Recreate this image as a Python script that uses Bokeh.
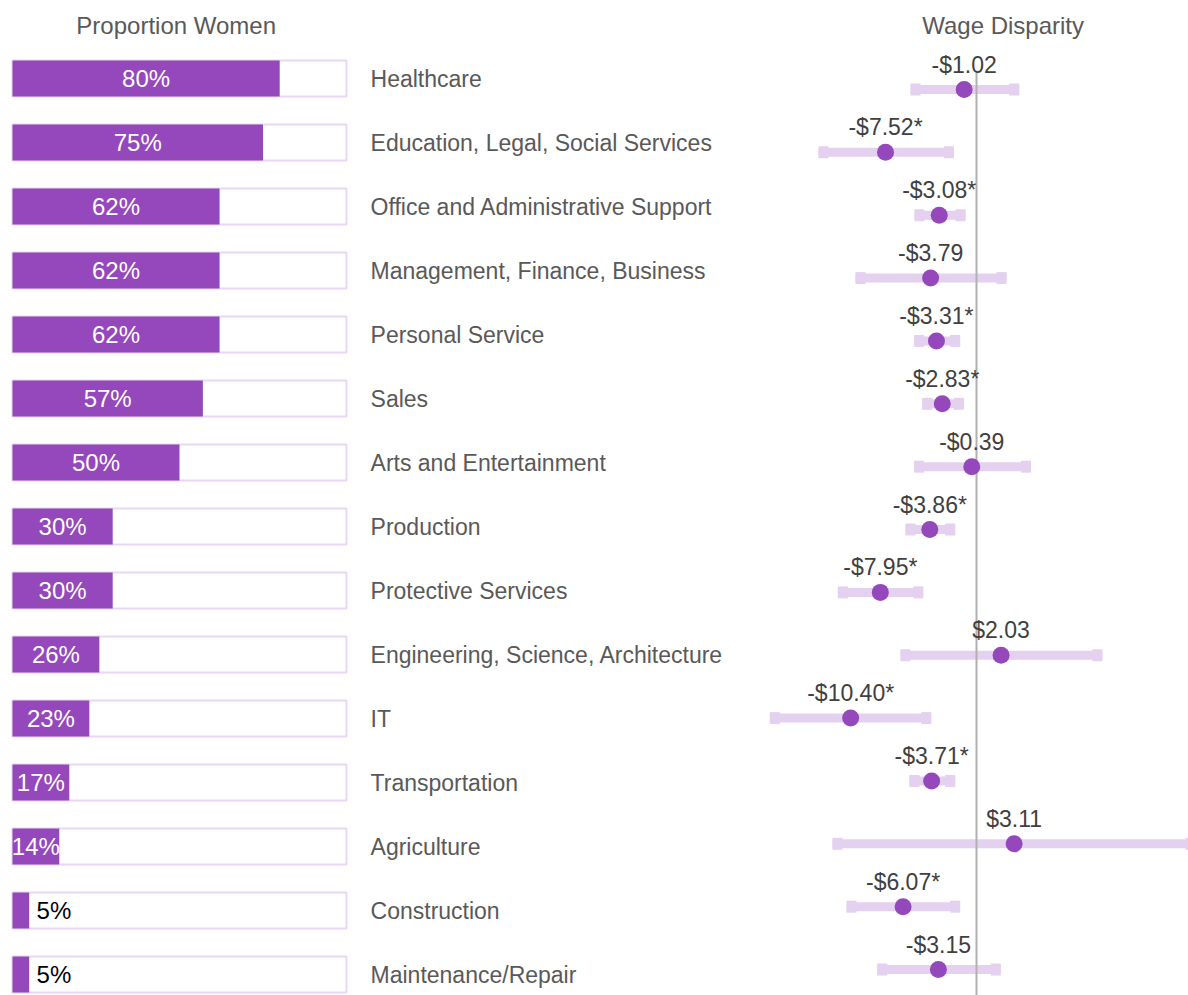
from bokeh.plotting import figure
from bokeh.models import Range1d, ColumnDataSource
from bokeh.core.properties import value
from bokeh.embed import file_html
from bokeh.resources import INLINE

# ---------------- data ----------------
categories = [
    "Healthcare", "Education, Legal, Social Services", "Office and Administrative Support",
    "Management, Finance, Business", "Personal Service", "Sales", "Arts and Entertainment",
    "Production", "Protective Services", "Engineering, Science, Architecture", "IT",
    "Transportation", "Agriculture", "Construction", "Maintenance/Repair",
]
pct_women = [80, 75, 62, 62, 62, 57, 50, 30, 30, 26, 23, 17, 14, 5, 5]
wage_gap = [-1.02, -7.52, -3.08, -3.79, -3.31, -2.83, -0.39, -3.86, -7.95, 2.03,
            -10.40, -3.71, 3.11, -6.07, -3.15]
significant = [False, True, True, False, True, True, False, True, True, False,
               True, True, False, True, False]
ci_low = [-5.45, -13.06, -5.12, -10.0, -5.15, -4.49, -5.15, -5.87, -11.46, -6.28,
          -17.08, -5.54, -11.9, -10.74, -8.2]
ci_high = [3.53, -1.87, -0.91, 2.48, -1.35, -1.05, 4.5, -1.76, -4.40, 10.4,
           -3.74, -1.76, 18.1, -1.35, 2.0]

# ---------------- layout constants ----------------
W, H = 1188, 995
PX_PER_PCT = 3.34
PCT_ZERO_PX = 12
PX_PER_USD = 12.1
USD_ZERO_PX = 976
L_ROW0_PX, L_ROW_STEP = 78, 64.0
R_ROW0_PX, R_ROW_STEP = 89, 62.86
TITLE_PX = 25

PURPLE = "#9448bc"
LAVENDER = "#e4d1ef"
BOX_LINE = "#e8d7f2"
GRAY_TXT = "#595959"
DARK_TXT = "#404040"
FONT = "Liberation Sans"

rows = list(range(len(categories)))

p = figure(
    width=W, height=H, output_backend="svg", toolbar_location=None,
    x_range=Range1d(-PCT_ZERO_PX / PX_PER_PCT, (W - PCT_ZERO_PX) / PX_PER_PCT),
    y_range=Range1d((H - L_ROW0_PX) / L_ROW_STEP, -L_ROW0_PX / L_ROW_STEP),
    x_axis_location=None, y_axis_location=None, min_border=0,
)
p.extra_x_ranges = {"wage": Range1d(-USD_ZERO_PX / PX_PER_USD, (W - USD_ZERO_PX) / PX_PER_USD)}
p.extra_y_ranges = {"wage": Range1d((H - R_ROW0_PX) / R_ROW_STEP, -R_ROW0_PX / R_ROW_STEP)}
p.xgrid.visible = False
p.ygrid.visible = False
p.outline_line_color = None
p.background_fill_color = "white"

# ---------------- left panel: proportion women ----------------
bar_h = 36 / L_ROW_STEP
p.hbar(y=rows, left=0, right=100, height=bar_h, fill_color="white",
       line_color=BOX_LINE, line_width=2)
p.hbar(y=rows, left=0, right=pct_women, height=bar_h, fill_color=PURPLE, line_color=None)

inside = ColumnDataSource(dict(
    x=[v / 2 for v in pct_women if v >= 10],
    y=[r for r, v in zip(rows, pct_women) if v >= 10],
    t=[f"{v}%" for v in pct_women if v >= 10],
))
outside = ColumnDataSource(dict(
    x=[v + 2.2 for v in pct_women if v < 10],
    y=[r for r, v in zip(rows, pct_women) if v < 10],
    t=[f"{v}%" for v in pct_women if v < 10],
))
p.text(x="x", y="y", text="t", source=inside, text_color="white",
       text_font=value(FONT), text_font_size="24px",
       text_align="center", text_baseline="middle")
p.text(x="x", y="y", text="t", source=outside, text_color="black",
       text_font=value(FONT), text_font_size="24px",
       text_align="left", text_baseline="middle")

# category labels
p.text(x=[107.2] * len(rows), y=rows, text=categories, text_color=GRAY_TXT,
       text_font=value(FONT), text_font_size="23px",
       text_align="left", text_baseline="middle")

# panel titles
p.text(x=[50], y=[(TITLE_PX - L_ROW0_PX) / L_ROW_STEP], text=["Proportion  Women"],
       text_color=GRAY_TXT, text_font=value(FONT), text_font_size="24px",
       text_align="center", text_baseline="middle")
p.text(x=[2.2], y=[(TITLE_PX - R_ROW0_PX) / R_ROW_STEP], text=["Wage Disparity"],
       x_range_name="wage", y_range_name="wage",
       text_color=GRAY_TXT, text_font=value(FONT), text_font_size="24px",
       text_align="center", text_baseline="middle")

# ---------------- right panel: wage disparity ----------------
cap_w = 10 / PX_PER_USD
p.segment(x0=ci_low, x1=ci_high, y0=rows, y1=rows, line_color=LAVENDER,
          line_width=9, line_cap="butt", x_range_name="wage", y_range_name="wage")
cap_h = 12 / R_ROW_STEP
p.rect(x=[v + cap_w / 2 for v in ci_low], y=rows, width=cap_w, height=cap_h,
       fill_color=LAVENDER, line_color=None, x_range_name="wage", y_range_name="wage")
p.rect(x=[v - cap_w / 2 for v in ci_high], y=rows, width=cap_w, height=cap_h,
       fill_color=LAVENDER, line_color=None, x_range_name="wage", y_range_name="wage")

# zero line
p.segment(x0=[0], x1=[0], y0=[(70 - R_ROW0_PX) / R_ROW_STEP], y1=[(H - R_ROW0_PX) / R_ROW_STEP],
          line_color="#b0b0b0", line_width=2, x_range_name="wage", y_range_name="wage")

p.scatter(x=wage_gap, y=rows, size=17, fill_color=PURPLE, line_color=None,
          x_range_name="wage", y_range_name="wage")

labels = [("-$" if v < 0 else "$") + f"{abs(v):.2f}" + ("*" if s else "")
          for v, s in zip(wage_gap, significant)]
p.text(x=wage_gap, y=rows, text=labels, y_offset=-25, text_color=DARK_TXT,
       text_font=value(FONT), text_font_size="23px",
       text_align="center", text_baseline="middle",
       x_range_name="wage", y_range_name="wage")

open("out.html", "w").write(file_html(p, INLINE))
